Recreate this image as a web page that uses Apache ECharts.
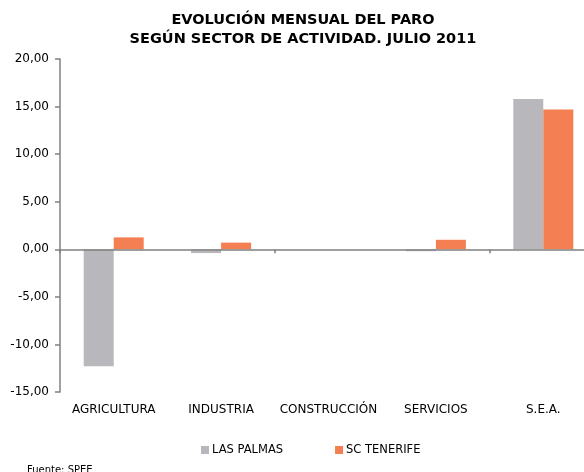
<!DOCTYPE html>
<html>
<head>
<meta charset="utf-8">
<script src="https://cdn.jsdelivr.net/npm/echarts@6/dist/echarts.min.js"></script>
<style>html,body{margin:0;padding:0;background:#fff}#c{width:584px;height:472px}</style>
</head>
<body>
<div id="c"></div>
<script>
var categories = ['AGRICULTURA', 'INDUSTRIA', 'CONSTRUCCIÓN', 'SERVICIOS', 'S.E.A.'];
var lasPalmas = [-12.3, -0.4, 0.0, -0.2, 15.8];
var scTenerife = [1.25, 0.7, 0.0, 1.0, 14.7];
var seriesNames = ['LAS PALMAS', 'SC TENERIFE'];
var titleLines = ['EVOLUCIÓN MENSUAL DEL PARO', 'SEGÚN SECTOR DE ACTIVIDAD. JULIO 2011'];
var sourceText = 'Fuente: SPEE';

var FONT = 'DejaVu Sans';
var chart = echarts.init(document.getElementById('c'), null, {renderer: 'canvas'});
chart.setOption({
  animation: false,
  backgroundColor: '#ffffff',
  title: {
    text: titleLines.join('\n'),
    left: 298,
    textAlign: 'center',
    top: 6,
    textStyle: {fontFamily: FONT, fontSize: 14.5, fontWeight: 'bold', color: '#000', lineHeight: 19}
  },
  legend: {
    data: seriesNames,
    left: 196,
    top: 439,
    itemWidth: 8,
    itemHeight: 8,
    itemGap: 52,
    icon: 'rect',
    textStyle: {fontFamily: FONT, fontSize: 11.5, color: '#000', padding: [0, 0, 0, -2]}
  },
  graphic: [{
    type: 'text',
    left: 27,
    top: 465,
    style: {text: sourceText, fontFamily: FONT, fontSize: 10, fill: '#000'}
  }],
  grid: {left: 60, width: 537, top: 59, height: 333, containLabel: false, outerBoundsMode: 'none'},
  xAxis: [{
    type: 'category',
    data: categories,
    z: 5,
    axisLine: {onZero: true, lineStyle: {color: '#808080', width: 1.5}},
    axisTick: {show: true, length: 4, inside: false, lineStyle: {color: '#808080', width: 1.5}},
    axisLabel: {show: false},
    splitLine: {show: false}
  }, {
    type: 'category',
    data: categories,
    position: 'bottom',
    axisLine: {show: false},
    axisTick: {show: false},
    axisLabel: {show: true, margin: 12, fontFamily: FONT, fontSize: 12, color: '#000', interval: 0},
    splitLine: {show: false}
  }],
  yAxis: {
    type: 'value',
    min: -15,
    max: 20,
    interval: 5,
    z: 5,
    axisLine: {show: true, lineStyle: {color: '#808080', width: 1.5}},
    axisTick: {show: true, length: 5, lineStyle: {color: '#808080', width: 1.5}},
    axisLabel: {
      fontFamily: FONT, fontSize: 12, color: '#000', margin: 11,
      formatter: function (v) { return v.toFixed(2).replace('.', ','); }
    },
    splitLine: {show: false}
  },
  series: [{
    name: seriesNames[0],
    type: 'bar',
    xAxisIndex: 0,
    data: lasPalmas,
    barWidth: 30,
    barGap: '0%',
    itemStyle: {color: '#B8B8BC'}
  }, {
    name: seriesNames[1],
    type: 'bar',
    xAxisIndex: 0,
    data: scTenerife,
    barWidth: 30,
    barGap: '0%',
    itemStyle: {color: '#F47F52'}
  }]
});
</script>
</body>
</html>
